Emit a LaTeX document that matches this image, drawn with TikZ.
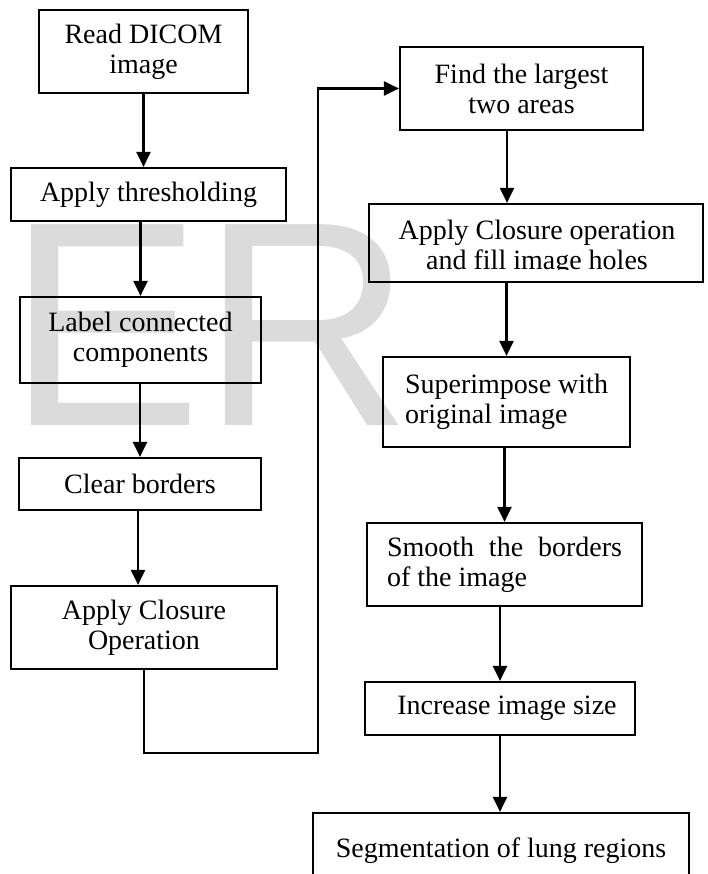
\documentclass[tikz,border=0pt]{standalone}
\usepackage{fontspec}
\setmainfont{Liberation Serif}
\newfontfamily\wmfont{Liberation Sans}
\usetikzlibrary{arrows.meta}
\newcommand\mainfs{\fontsize{28}{30}\selectfont}
\newcommand\wmfs{\wmfont\fontsize{292}{292}\selectfont}
\tikzset{
  box/.style={draw, line width=2.2pt, inner sep=0pt, font=\mainfs, align=center},
  txt/.style={inner sep=0pt, font=\mainfs, align=center},
  arr/.style={line width=2.2pt, -{Triangle[width=14pt,length=15pt]}},
}
\begin{document}
\begin{tikzpicture}[x=1pt,y=-1pt]
\clip (0,0) rectangle (707,874);
\fill[white] (0,0) rectangle (707,874);
% watermark
\node[anchor=base west, inner sep=0pt, text=black!14, font=\wmfs] (wm) at (7,425) {ER};
% left column
\node[box, minimum width=209pt, minimum height=83pt] (read) at (143.5,51.5) {Read DICOM\\image};
\node[box, minimum width=275pt, minimum height=53pt] (thresh) at (148.5,194.5) {Apply thresholding};
\node[box, minimum width=241pt, minimum height=86pt] (lab) at (140.5,340) {Label connected\\components};
\node[box, minimum width=242pt, minimum height=52pt] (clear) at (140,484) {Clear borders};
\node[box, minimum width=266pt, minimum height=83pt] (closure) at (144,627.5) {Apply Closure\\Operation};
% right column
\node[box, minimum width=243pt, minimum height=83pt] (find) at (521.5,88.5) {Find the largest\\two areas};
\node[box, minimum width=334pt, minimum height=78pt] (fill) at (536,243) {};
\begin{scope}
  \clip (369,204) rectangle (703,270);
  \node[txt] (filltxt) at (537,247.5) {Apply Closure operation\\and fill image holes};
\end{scope}
\node[box, align=left, minimum width=247pt, minimum height=90pt] (super) at (506.5,402) {Superimpose with\\original image};
\node[box, align=left, minimum width=275pt, minimum height=83pt] (smooth) at (504.5,564.5) {\makebox[235pt][s]{Smooth the borders}\\of the image};
\node[box, minimum width=270pt, minimum height=53pt] (incr) at (500,708.5) {\hspace{14pt}Increase image size};
\node[box, minimum width=376pt, minimum height=76pt] (seg) at (501,851) {Segmentation of lung regions};
% connectors
\draw[arr] (read.south) -- (read.south |- thresh.north);
\draw[arr] (lab.north |- thresh.south) -- (lab.north);
\draw[arr] (clear.north |- lab.south) -- (clear.north);
\draw[arr] ([xshift=-2pt]clear.south) -- ([xshift=-2pt]clear.south |- closure.north);
\coordinate (c1) at (318,753);
\draw[arr] (closure.south) |- (c1) |- (find.west);
\draw[arr] ([xshift=-14.5pt]find.south) -- ([xshift=-14.5pt]find.south |- fill.north);
\draw[arr] (super.north |- fill.south) -- (super.north);
\draw[arr] (smooth.north |- super.south) -- (smooth.north);
\draw[arr] (incr.north |- smooth.south) -- (incr.north);
\draw[arr] (incr.south) -- (incr.south |- seg.north);
\end{tikzpicture}
\end{document}
